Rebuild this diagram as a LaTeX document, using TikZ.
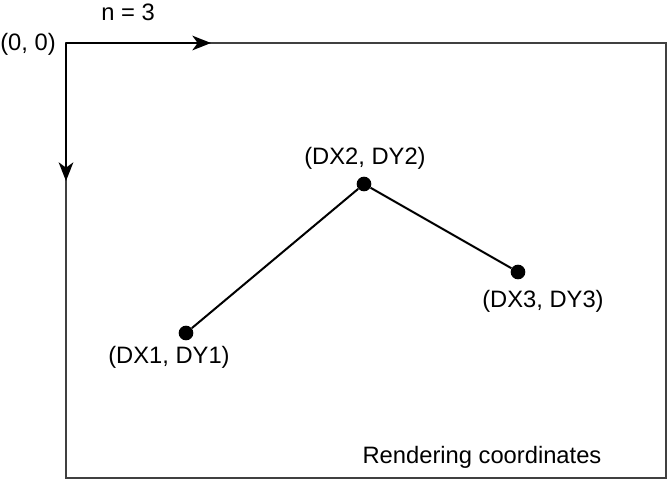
\documentclass[tikz,border=0pt]{standalone}
\usepackage{fontspec}
\setmainfont{Liberation Sans}
\usetikzlibrary{positioning,arrows.meta}
\tikzset{every node/.style={font=\fontsize{17.8}{21}\selectfont}}

\begin{document}
\begin{tikzpicture}[
    x=0.75pt, y=-0.75pt,
    >={Stealth[length=14pt, width=11pt, inset=4pt]},
    frame/.style={draw=black!75, line width=1.1pt},
    axis/.style={->, line width=1.5pt},
    dot/.style={circle, fill=black, minimum size=11pt, inner sep=0pt},
    link/.style={line width=1.5pt}
]
\useasboundingbox (0,0) rectangle (667,480);

% rendering area
\coordinate (origin) at (66,43);
\coordinate (corner) at (666,478);
\draw[frame] (origin) rectangle (corner);

% axes
\coordinate (xend) at (211,43);
\coordinate (yend) at (66,181);
\draw[axis] (origin) -- (xend);
\draw[axis] (origin) -- (yend);

\node (count) at (128,12) {n = 3};
\node (zero) at (28,44) {(0, 0)};

% points
\node (p1) [dot] at (186,333) {};
\node (p2) [dot] at (364,184) {};
\node (p3) [dot] at (518,272) {};

\draw[link] (p1) -- (p2);
\draw[link] (p2) -- (p3);

\node (l1) at (169,357) {(DX1, DY1)};
\node (l2) at (365,158) {(DX2, DY2)};
\node (l3) at (543,301) {(DX3, DY3)};

\node (caption) at (482,457) {Rendering coordinates};

\end{tikzpicture}
\end{document}
